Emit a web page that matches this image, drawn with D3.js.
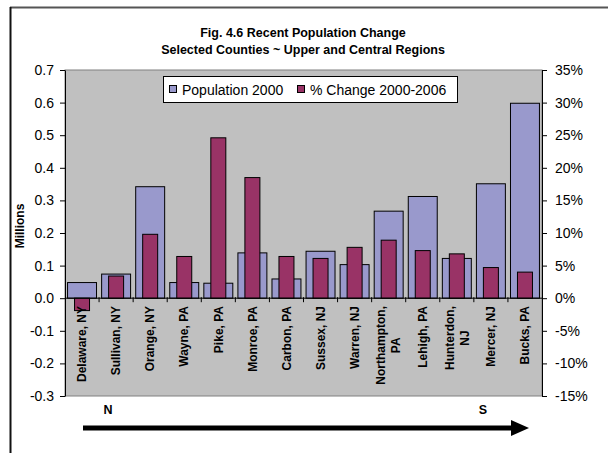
<!DOCTYPE html>
<html>
<head>
<meta charset="utf-8">
<script src="https://cdn.jsdelivr.net/npm/d3@7"></script>
<style>
  body { margin: 0; background: #fff; }
  text { font-family: Arial, "Liberation Sans", sans-serif; }
</style>
</head>
<body>
<div class="chart"></div>
<script>
const width = 608, height = 453;

// data
const counties = ["Delaware, NY", "Sullivan, NY", "Orange, NY", "Wayne, PA", "Pike, PA", "Monroe, PA",
  "Carbon, PA", "Sussex, NJ", "Warren, NJ", "Northampton, PA", "Lehigh, PA", "Hunterdon, NJ", "Mercer, NJ", "Bucks, PA"];
// labels as they wrap on the chart
const labelLines = [["Delaware, NY"], ["Sullivan, NY"], ["Orange, NY"], ["Wayne, PA"], ["Pike, PA"], ["Monroe, PA"],
  ["Carbon, PA"], ["Sussex, NJ"], ["Warren, NJ"], ["Northampton,", "PA"], ["Lehigh, PA"], ["Hunterdon,", "NJ"], ["Mercer, NJ"], ["Bucks, PA"]];
const population2000 = [0.048, 0.074, 0.342, 0.048, 0.046, 0.139, 0.059, 0.144, 0.103, 0.267, 0.312, 0.122, 0.351, 0.598];
const pctChange = [-1.9, 3.4, 9.8, 6.4, 24.6, 18.5, 6.4, 6.1, 7.8, 8.9, 7.3, 6.8, 4.7, 4.0];
const leftTicks = [-0.3, -0.2, -0.1, 0, 0.1, 0.2, 0.3, 0.4, 0.5, 0.6, 0.7];
const rightTicks = [-15, -10, -5, 0, 5, 10, 15, 20, 25, 30, 35];
const seriesNames = ["Population 2000", "% Change 2000-2006"];
const colors = ["#9999CC", "#993366"];

const plot = {left: 65, right: 542, top: 70, bottom: 396};

const svg = d3.select(".chart").append("svg")
    .attr("width", width)
    .attr("height", height);

// outer frame (only top/left visible in the crop)
svg.append("line").attr("x1", 10).attr("x2", width).attr("y1", 7.5).attr("y2", 7.5)
    .attr("stroke", "#555").attr("stroke-width", 2);
svg.append("line").attr("x1", 10.5).attr("x2", 10.5).attr("y1", 7).attr("y2", height)
    .attr("stroke", "#111").attr("stroke-width", 2);

const x = d3.scaleBand().domain(counties).range([plot.left, plot.right]).padding(0);
const yL = d3.scaleLinear().domain([-0.3, 0.7]).range([plot.bottom, plot.top]);
const yR = d3.scaleLinear().domain([-15, 35]).range([plot.bottom, plot.top]);

svg.append("rect")
    .attr("x", plot.left).attr("y", plot.top)
    .attr("width", plot.right - plot.left).attr("height", plot.bottom - plot.top)
    .attr("fill", "#C0C0C0").attr("stroke", "#808080");

// population bars (wide)
const bw = x.bandwidth();
svg.append("g").selectAll("rect")
  .data(population2000)
  .join("rect")
    .attr("x", (d, i) => x(counties[i]) + bw * 0.075)
    .attr("width", bw * 0.85)
    .attr("y", d => yL(Math.max(0, d)))
    .attr("height", d => Math.abs(yL(d) - yL(0)))
    .attr("fill", colors[0])
    .attr("stroke", "#000").attr("stroke-width", 1);

// % change bars (narrow, secondary axis)
svg.append("g").selectAll("rect")
  .data(pctChange)
  .join("rect")
    .attr("x", (d, i) => x(counties[i]) + bw * 0.28)
    .attr("width", bw * 0.44)
    .attr("y", d => yR(Math.max(0, d)))
    .attr("height", d => Math.abs(yR(d) - yR(0)))
    .attr("fill", colors[1])
    .attr("stroke", "#000").attr("stroke-width", 1);

// zero line and category tick marks
svg.append("line").attr("x1", plot.left).attr("x2", plot.right)
    .attr("y1", yL(0)).attr("y2", yL(0)).attr("stroke", "#000");
svg.append("g").selectAll("line")
  .data(counties.slice(1))
  .join("line")
    .attr("x1", d => x(d)).attr("x2", d => x(d))
    .attr("y1", yL(0) - 1).attr("y2", yL(0) + 4)
    .attr("stroke", "#000");

// axes
const gl = svg.append("g").attr("transform", `translate(${plot.left},0)`)
    .call(d3.axisLeft(yL).tickValues(leftTicks).tickSize(5).tickSizeOuter(0).tickPadding(6)
      .tickFormat(d => d.toFixed(1)));
const gr = svg.append("g").attr("transform", `translate(${plot.right},0)`)
    .call(d3.axisRight(yR).tickValues(rightTicks).tickSize(5).tickSizeOuter(0).tickPadding(8)
      .tickFormat(d => d + "%"));
[gl, gr].forEach(g => {
  g.selectAll("text").attr("font-size", 14).attr("fill", "#000")
    .attr("font-family", "Arial, 'Liberation Sans', sans-serif");
  g.selectAll("line, path").attr("stroke", "#000");
});

// rotated category labels
const labelTop = 306, lineH = 15;
labelLines.forEach((lines, i) => {
  const cx = x(counties[i]) + bw / 2;
  const g = svg.append("g");
  const t = g.append("text")
      .attr("text-anchor", "middle")
      .attr("font-size", 12).attr("font-weight", "bold");
  lines.forEach((s, j) => {
    t.append("tspan").attr("x", 0).attr("y", (j - (lines.length - 1) / 2) * lineH)
      .attr("dy", "0.35em").text(s);
  });
  const w = d3.max(t.selectAll("tspan").nodes(), n => n.getComputedTextLength());
  let top = labelTop;
  if (top + w > plot.bottom - 4) top = plot.bottom - 4 - w;
  g.attr("transform", `translate(${cx},${top + w / 2}) rotate(-90)`);
});

// axis title
svg.append("text")
    .attr("transform", `translate(20,226) rotate(-90)`)
    .attr("text-anchor", "middle").attr("dy", "0.35em")
    .attr("font-size", 12).attr("font-weight", "bold")
    .text("Millions");

// chart title
svg.append("text").attr("x", 303).attr("y", 37)
    .attr("text-anchor", "middle").attr("font-size", 12.5).attr("font-weight", "bold")
    .text("Fig. 4.6 Recent Population Change");
svg.append("text").attr("x", 303).attr("y", 54)
    .attr("text-anchor", "middle").attr("font-size", 12.5).attr("font-weight", "bold")
    .text("Selected Counties ~ Upper and Central Regions");

// legend
const legend = svg.append("g");
legend.append("rect").attr("x", 163.5).attr("y", 76.5).attr("width", 294).attr("height", 26)
    .attr("fill", "#fff").attr("stroke", "#000");
const legX = [169, 297];
seriesNames.forEach((name, i) => {
  legend.append("rect").attr("x", legX[i] + 0.5).attr("y", 85.5).attr("width", 7).attr("height", 7)
      .attr("fill", colors[i]).attr("stroke", "#000");
  legend.append("text").attr("x", legX[i] + 13).attr("y", 94.5)
      .attr("font-size", 14).text(name);
});

// N -> S arrow
svg.append("text").attr("x", 108).attr("y", 414).attr("text-anchor", "middle")
    .attr("font-size", 12.5).attr("font-weight", "bold").text("N");
svg.append("text").attr("x", 483).attr("y", 414).attr("text-anchor", "middle")
    .attr("font-size", 12.5).attr("font-weight", "bold").text("S");
svg.append("line").attr("x1", 83).attr("x2", 513).attr("y1", 428).attr("y2", 428)
    .attr("stroke", "#000").attr("stroke-width", 5);
svg.append("path").attr("d", "M511,420 L529,428 L511,436 Z").attr("fill", "#000");
</script>
</body>
</html>
